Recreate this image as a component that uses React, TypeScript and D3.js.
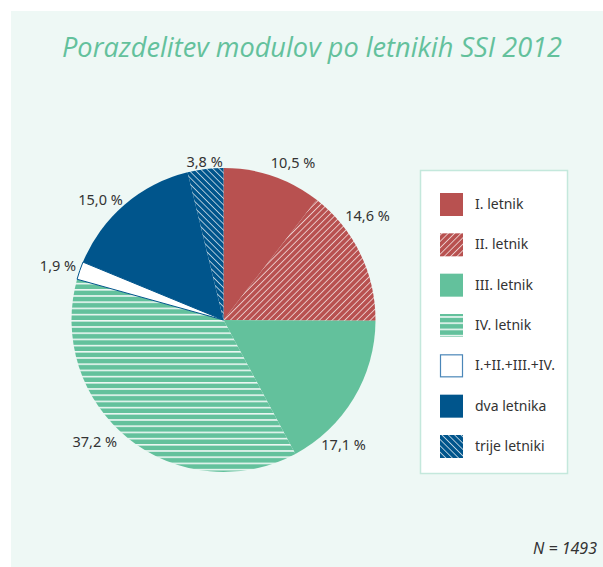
import React from "react";
import * as d3 from "d3";

const categories = [
  "I. letnik",
  "II. letnik",
  "III. letnik",
  "IV. letnik",
  "I.+II.+III.+IV.",
  "dva letnika",
  "trije letniki",
];
const values = [10.5, 14.6, 17.1, 37.2, 1.9, 15.0, 3.8];
const valueLabels = ["10,5 %", "14,6 %", "17,1 %", "37,2 %", "1,9 %", "15,0 %", "3,8 %"];
const fills = [
  "#b85150",
  "url(#patRed)",
  "#63c19c",
  "url(#patGreen)",
  "#ffffff",
  "#00558c",
  "url(#patBlue)",
];
// label placement tweaks: [extra angle deg, radius]
const labelTweak: [number, number][] = [
  [5, 172],
  [-10, 178],
  [15, 173],
  [8, 177],
  [-1, 174],
  [-5, 172],
  [0, 159],
];

export default function App() {
  const W = 603;
  const H = 567;
  const cx = 223.5;
  const cy = 320;
  const R = 152;

  const pie = d3
    .pie<number>()
    .value((d) => d)
    .sort(null)
    .startAngle(0)
    .endAngle(2 * Math.PI);
  const arcs = pie(values);
  const arcGen = d3.arc<d3.PieArcDatum<number>>().innerRadius(0).outerRadius(R);

  const legendY = d3
    .scalePoint<string>()
    .domain(categories)
    .range([204, 446]);

  return (
    <svg
      width={W}
      height={H}
      style={{ position: "absolute", left: 0, top: 0 }}
    >
      <defs>
        <pattern id="patRed" patternUnits="userSpaceOnUse" width="4.5" height="4.5" patternTransform="rotate(45)">
          <rect width="4.5" height="4.5" fill="#b85150" />
          <line x1="0" y1="0" x2="0" y2="4.5" stroke="#ffffff" strokeWidth="1.3" />
        </pattern>
        <pattern id="patGreen" patternUnits="userSpaceOnUse" width="6" height="6.2">
          <rect width="6" height="6.2" fill="#63c19c" />
          <line x1="0" y1="0.8" x2="6" y2="0.8" stroke="#ffffff" strokeWidth="1.4" />
        </pattern>
        <pattern id="patBlue" patternUnits="userSpaceOnUse" width="4.5" height="4.5" patternTransform="rotate(-45)">
          <rect width="4.5" height="4.5" fill="#00558c" />
          <line x1="0" y1="0" x2="0" y2="4.5" stroke="#ffffff" strokeWidth="1.3" />
        </pattern>
      </defs>
      <rect x={0} y={0} width={W} height={H} fill="#ffffff" />
      <rect x={11} y={11} width={W - 11} height={H - 11} fill="#eef8f5" />
      <text
        x={312}
        y={57}
        textAnchor="middle"
        fill="#63c19c"
        fontFamily="'Open Sans', sans-serif"
        fontStyle="italic"
        fontWeight={400}
        fontSize={27}
        textLength={500}
        lengthAdjust="spacingAndGlyphs"
      >
        Porazdelitev modulov po letnikih SSI 2012
      </text>

      <g transform={`translate(${cx},${cy})`}>
        {arcs.map((a, i) => (
          <path
            key={i}
            d={arcGen(a) || ""}
            fill={fills[i]}
            stroke={i === 4 ? "#00558c" : "none"}
            strokeWidth={i === 4 ? 1 : 0}
          />
        ))}
        {arcs.map((a, i) => {
          const mid = (a.startAngle + a.endAngle) / 2 + (labelTweak[i][0] * Math.PI) / 180;
          const r = labelTweak[i][1];
          const x = r * Math.sin(mid);
          const y = -r * Math.cos(mid);
          return (
            <text
              key={"l" + i}
              x={x}
              y={y}
              dy="0.35em"
              textAnchor="middle"
              fill="#333333"
              fontFamily="'Noto Sans', sans-serif"
              fontSize={14.5}
            >
              {valueLabels[i]}
            </text>
          );
        })}
      </g>

      <rect x={420.5} y={170.5} width={147} height={303} fill="#ffffff" stroke="#c4e8dc" strokeWidth={1.5} />
      {categories.map((c, i) => {
        const y = legendY(c) as number;
        return (
          <g key={"g" + i}>
            <rect
              x={i === 4 ? 440.5 : 440}
              y={i === 4 ? y - 10.5 : y - 11}
              width={i === 4 ? 22 : 23}
              height={i === 4 ? 22 : 23}
              fill={fills[i]}
              stroke={i === 4 ? "#4a86b8" : "none"}
              strokeWidth={i === 4 ? 1.2 : 0}
            />
            <text
              x={475}
              y={y}
              dy="0.35em"
              fill="#333333"
              fontFamily="'Noto Sans', sans-serif"
              fontSize={14}
            >
              {c}
            </text>
          </g>
        );
      })}

      <text
        x={597}
        y={554}
        textAnchor="end"
        fill="#333333"
        fontFamily="'Noto Sans', sans-serif"
        fontStyle="italic"
        fontSize={16}
      >
        N = 1493
      </text>
    </svg>
  );
}
